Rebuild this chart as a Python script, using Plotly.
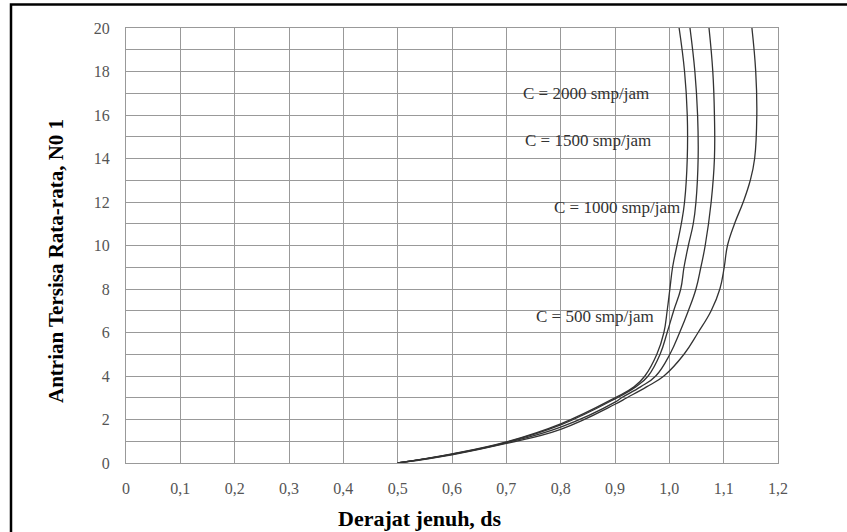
import plotly.graph_objects as go

# ---- data ----
capacity_labels = ["C = 2000 smp/jam", "C = 1500 smp/jam", "C = 1000 smp/jam", "C = 500 smp/jam"]

ds_c2000 = [0.5, 0.6, 0.7, 0.8, 0.9, 0.935, 0.955, 0.977, 0.990, 0.996, 1.001, 1.006, 1.014, 1.022, 1.028, 1.033, 1.033, 1.028, 1.018]
nq_c2000 = [0, 0.42, 0.97, 1.8, 3.0, 3.5, 4, 5, 6, 7, 8, 9, 10, 11, 12, 14, 16, 18, 20]

ds_c1500 = [0.5, 0.6, 0.7, 0.8, 0.9, 0.938, 0.961, 0.983, 0.996, 1.008, 1.021, 1.027, 1.035, 1.044, 1.049, 1.053, 1.052, 1.047, 1.038]
nq_c1500 = [0, 0.41, 0.95, 1.75, 2.95, 3.5, 4, 5, 6, 7, 8, 9, 10, 11, 12, 14, 16, 18, 20]

ds_c1000 = [0.5, 0.6, 0.7, 0.8, 0.9, 0.912, 0.947, 0.975, 1.001, 1.019, 1.035, 1.049, 1.058, 1.066, 1.077, 1.083, 1.083, 1.080, 1.073]
nq_c1000 = [0, 0.4, 0.93, 1.65, 2.8, 3, 3.5, 4, 5, 6, 7, 8, 9, 10, 12, 14, 16, 18, 20]

ds_c500 = [0.5, 0.6, 0.7, 0.8, 0.9, 0.922, 0.958, 0.990, 1.027, 1.053, 1.077, 1.093, 1.101, 1.107, 1.120, 1.136, 1.149, 1.157, 1.161, 1.159, 1.152]
nq_c500 = [0, 0.38, 0.9, 1.55, 2.7, 3, 3.5, 4, 5, 6, 7, 8, 9, 10, 11, 12, 13, 14, 16, 18, 20]

label_x = [0.847, 0.850, 0.903, 0.863]
label_y = [17.0, 14.85, 11.74, 6.74]

x_tickvals = [0, 0.1, 0.2, 0.3, 0.4, 0.5, 0.6, 0.7, 0.8, 0.9, 1.0, 1.1, 1.2]
x_ticktext = ["0", "0,1", "0,2", "0,3", "0,4", "0,5", "0,6", "0,7", "0,8", "0,9", "1,0", "1,1", "1,2"]
y_tickvals = [0, 2, 4, 6, 8, 10, 12, 14, 16, 18, 20]

x_title = "Derajat jenuh, ds"
y_title = "Antrian Tersisa Rata-rata, N0 1"

# ---- figure ----
SERIF = "Liberation Serif, Times New Roman, serif"
GRID = "#999999"

fig = go.Figure()
for xs, ys in [(ds_c2000, nq_c2000), (ds_c1500, nq_c1500), (ds_c1000, nq_c1000), (ds_c500, nq_c500)]:
    fig.add_trace(go.Scatter(
        x=xs, y=ys, mode="lines",
        line=dict(color="#333333", width=1.3, shape="spline", smoothing=1.2),
        showlegend=False, hoverinfo="skip",
    ))

for txt, lx, ly in zip(capacity_labels, label_x, label_y):
    fig.add_annotation(x=lx, y=ly, xref="x", yref="y", text=txt, showarrow=False,
                       xanchor="center", yanchor="middle",
                       font=dict(family=SERIF, size=17, color="#333333"))

W, H = 847, 532
ml, mr, mt, mb = 126, 69, 28, 69
pw, ph = W - ml - mr, H - mt - mb

def px_to_paper_x(px):
    return (px - ml) / pw

def px_to_paper_y(py):
    return (H - mb - py) / ph

# axis titles placed as in the reference
fig.add_annotation(xref="paper", yref="paper", x=px_to_paper_x(420), y=px_to_paper_y(518),
                   xanchor="center", yanchor="middle",
                   text="<b>" + x_title + "</b>", showarrow=False,
                   font=dict(family=SERIF, size=22, color="black"))
fig.add_annotation(xref="paper", yref="paper", x=px_to_paper_x(56), y=px_to_paper_y(261),
                   xanchor="center", yanchor="middle",
                   text="<b>" + y_title + "</b>", showarrow=False, textangle=-90,
                   font=dict(family=SERIF, size=21, color="black"))

# outer black frame (cut off at right/bottom in the reference)
fig.add_shape(type="rect", xref="paper", yref="paper",
              x0=px_to_paper_x(11), x1=px_to_paper_x(852),
              y0=px_to_paper_y(540), y1=px_to_paper_y(4.5),
              line=dict(color="black", width=2.5), fillcolor="rgba(0,0,0,0)", layer="above")

fig.update_layout(
    width=W, height=H,
    margin=dict(l=ml, r=mr, t=mt, b=mb, autoexpand=False),
    paper_bgcolor="white", plot_bgcolor="white",
    font=dict(family=SERIF),
    xaxis=dict(
        range=[0, 1.2], tickvals=x_tickvals, ticktext=x_ticktext, automargin=False,
        showgrid=True, gridcolor=GRID, gridwidth=1,
        zeroline=False, showline=True, linecolor=GRID, linewidth=1, mirror=True,
        ticks="", ticklabelstandoff=11,
        tickfont=dict(family=SERIF, size=16, color="#555555"),
    ),
    yaxis=dict(
        range=[0, 20], tickvals=y_tickvals, automargin=False,
        showgrid=True, gridcolor=GRID, gridwidth=1,
        minor=dict(dtick=1, showgrid=True, gridcolor=GRID, gridwidth=1),
        zeroline=False, showline=True, linecolor=GRID, linewidth=1, mirror=True,
        ticks="", ticklabelstandoff=12,
        tickfont=dict(family=SERIF, size=16, color="#555555"),
    ),
)

fig.write_html("out.html")
